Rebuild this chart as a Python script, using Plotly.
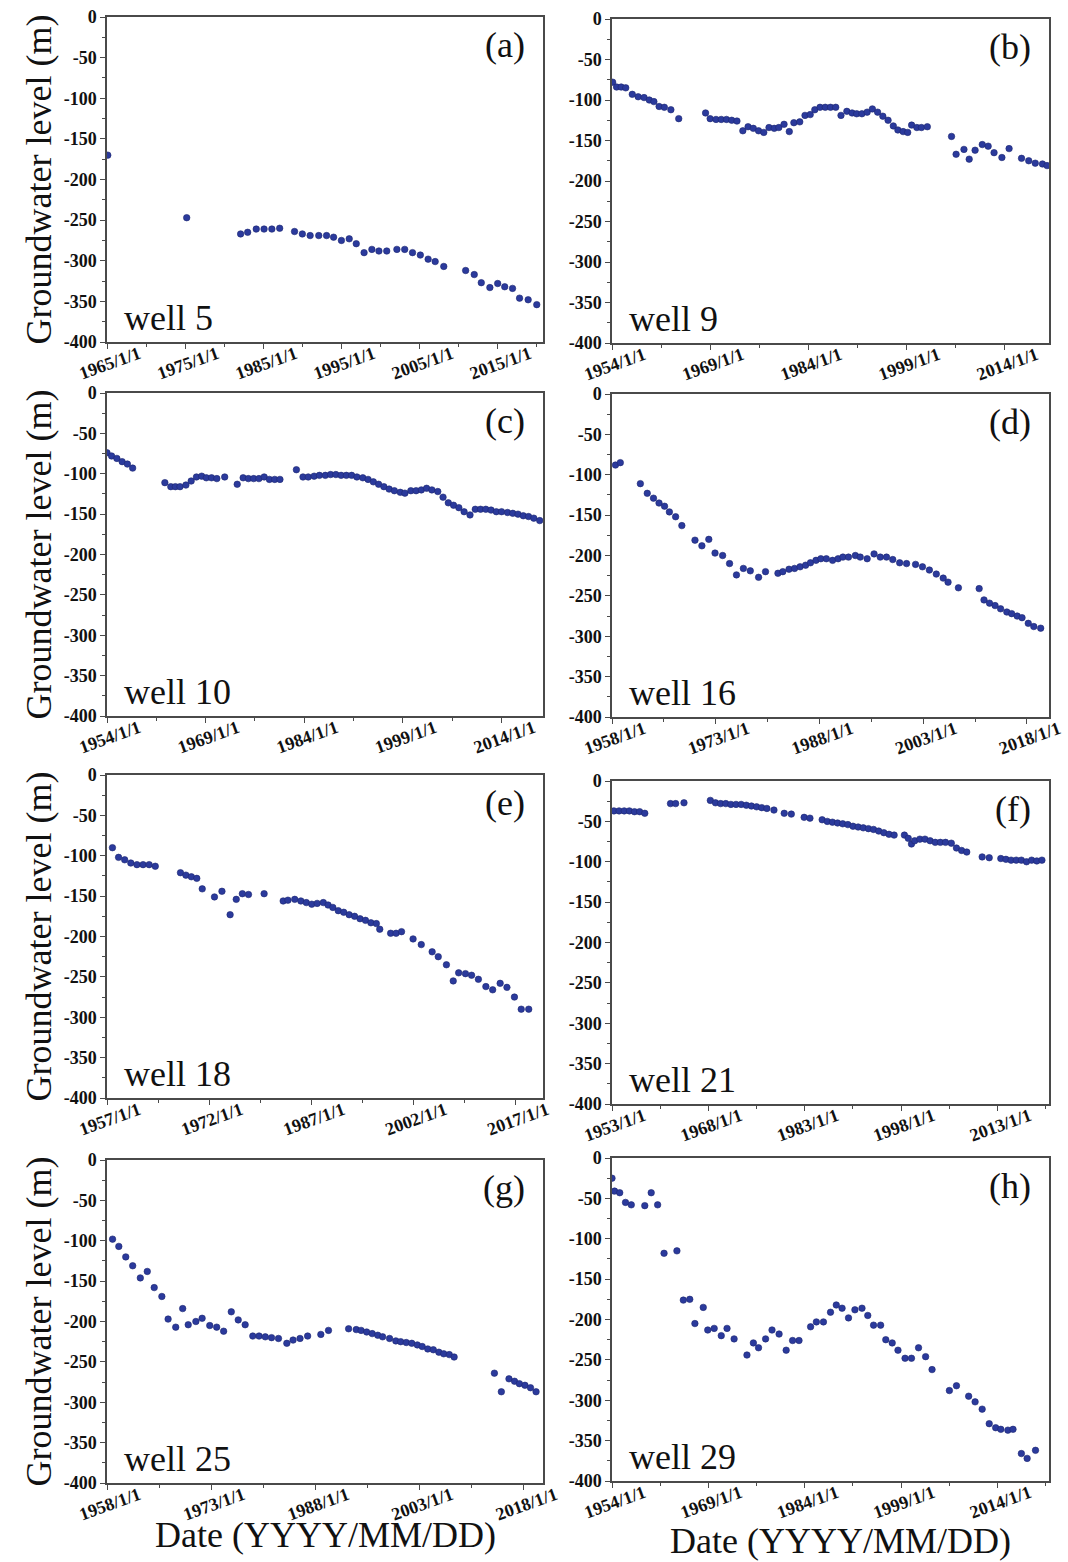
import plotly.graph_objects as go

# ---------------- data (decimal year, groundwater level in m) ----------------
well5_year = [1965.1, 1975.2, 1982.1, 1983.0, 1984.1, 1985.1, 1986.1, 1987.1, 1989.0, 1990.0,
              1991.0, 1992.1, 1993.1, 1994.0, 1995.0, 1996.0, 1996.9, 1997.9, 1998.9, 1999.8,
              2000.8, 2002.1, 2003.1, 2004.1, 2005.1, 2006.1, 2007.0, 2008.1, 2010.9, 2012.0,
              2012.9, 2014.0, 2015.0, 2015.9, 2016.9, 2017.8, 2018.9, 2020.0]
well5_level = [-170, -247, -267, -265, -261, -261, -261, -260, -264, -267,
               -269, -269, -269, -271, -275, -273, -279, -290, -286, -288,
               -288, -286, -286, -290, -293, -298, -301, -307, -312, -317,
               -327, -333, -328, -332, -334, -346, -348, -354]

well9_year = [1954.1, 1954.7, 1955.4, 1956.1, 1957.1, 1958.0, 1958.9, 1959.7, 1960.4, 1961.2,
              1962.0, 1963.0, 1964.2, 1968.3, 1969.0, 1969.9, 1970.7, 1971.5, 1972.3, 1973.1,
              1974.0, 1974.8, 1975.6, 1976.4, 1977.2, 1978.0, 1978.8, 1979.5, 1980.3, 1981.1,
              1981.8, 1982.7, 1983.5, 1984.3, 1985.0, 1985.8, 1986.6, 1987.4, 1988.2, 1989.0,
              1989.9, 1990.7, 1991.4, 1992.2, 1993.0, 1993.8, 1994.6, 1995.4, 1996.2, 1997.0,
              1997.7, 1998.5, 1999.2, 1999.8, 2000.6, 2001.3, 2002.2, 2005.9, 2006.6, 2007.8,
              2008.6, 2009.5, 2010.6, 2011.5, 2012.4, 2013.6, 2014.7, 2016.6, 2017.7, 2018.7,
              2019.8, 2020.5]
well9_level = [-78, -84, -84, -85, -93, -96, -97, -100, -102, -108,
               -109, -112, -123, -116, -123, -124, -124, -124, -125, -126,
               -138, -133, -135, -138, -140, -134, -135, -134, -130, -139,
               -128, -127, -119, -118, -112, -109, -109, -109, -109, -119,
               -114, -116, -117, -117, -115, -111, -115, -120, -125, -132,
               -137, -139, -140, -131, -134, -134, -133, -145, -167, -161,
               -173, -162, -155, -157, -165, -171, -160, -172, -175, -178,
               -179, -181]

well10_year = [1954.0, 1954.7, 1955.5, 1956.3, 1957.1, 1957.9, 1962.8, 1963.7, 1964.4, 1965.1,
               1966.0, 1966.8, 1967.6, 1968.4, 1969.1, 1969.9, 1970.7, 1971.9, 1973.8, 1974.7,
               1975.5, 1976.3, 1977.1, 1977.9, 1978.7, 1979.5, 1980.3, 1982.8, 1983.8, 1984.6,
               1985.5, 1986.3, 1987.2, 1988.0, 1988.8, 1989.6, 1990.4, 1991.2, 1992.0, 1992.9,
               1993.7, 1994.5, 1995.3, 1996.1, 1996.9, 1997.7, 1998.6, 1999.3, 2000.2, 2001.0,
               2001.8, 2002.6, 2003.4, 2004.3, 2005.1, 2005.9, 2006.7, 2007.5, 2008.3, 2009.2,
               2010.0, 2010.8, 2011.6, 2012.4, 2013.2, 2014.0, 2014.9, 2015.7, 2016.5, 2017.3,
               2018.1, 2018.9, 2019.8]
well10_level = [-74, -78, -81, -85, -88, -93, -111, -116, -116, -116,
                -114, -109, -104, -103, -105, -105, -106, -104, -113, -105,
                -106, -106, -106, -104, -107, -107, -107, -95, -104, -104,
                -103, -102, -102, -101, -101, -102, -102, -102, -104, -105,
                -107, -110, -113, -116, -119, -121, -123, -124, -121, -121,
                -120, -118, -120, -122, -129, -136, -139, -142, -147, -151,
                -144, -144, -144, -145, -147, -147, -148, -149, -150, -152,
                -153, -155, -158]

well16_year = [1958.5, 1959.2, 1962.1, 1963.1, 1964.0, 1964.8, 1965.6, 1966.3, 1967.2, 1968.1,
               1970.0, 1971.0, 1972.0, 1972.9, 1974.0, 1975.0, 1976.0, 1977.0, 1978.0, 1979.2,
               1980.2, 1982.0, 1982.7, 1983.6, 1984.4, 1985.2, 1986.0, 1986.7, 1987.5, 1988.2,
               1989.0, 1989.9, 1990.7, 1991.4, 1992.2, 1993.2, 1993.9, 1994.9, 1995.9, 1996.8,
               1997.7, 1998.6, 1999.6, 2000.6, 2001.9, 2002.9, 2003.9, 2004.9, 2005.9, 2006.6,
               2008.1, 2011.1, 2011.8, 2012.6, 2013.4, 2014.2, 2015.1, 2015.8, 2016.6, 2017.3,
               2018.2, 2019.0, 2020.0]
well16_level = [-88, -85, -111, -123, -129, -135, -139, -146, -152, -163,
                -181, -188, -180, -197, -200, -210, -224, -216, -219, -227,
                -220, -222, -220, -217, -216, -214, -212, -209, -206, -204,
                -204, -206, -204, -202, -202, -200, -202, -204, -198, -202,
                -202, -205, -209, -210, -211, -214, -218, -223, -228, -233,
                -240, -241, -255, -259, -262, -266, -270, -272, -275, -277,
                -284, -288, -290]

well18_year = [1957.8, 1958.7, 1959.6, 1960.5, 1961.4, 1962.3, 1963.2, 1964.1, 1967.8, 1968.6,
               1969.4, 1970.2, 1971.0, 1972.8, 1973.9, 1975.1, 1976.0, 1976.9, 1977.8, 1980.1,
               1982.9, 1983.6, 1984.6, 1985.5, 1986.3, 1987.1, 1987.9, 1988.8, 1989.5, 1990.2,
               1991.0, 1991.8, 1992.6, 1993.4, 1994.2, 1995.0, 1995.8, 1996.6, 1997.1, 1998.7,
               1999.5, 2000.3, 2002.0, 2003.2, 2004.8, 2005.7, 2006.9, 2007.9, 2008.7, 2009.7,
               2010.6, 2011.6, 2012.7, 2013.7, 2014.8, 2015.8, 2016.9, 2017.9, 2019.0]
well18_level = [-90, -102, -105, -109, -111, -111, -111, -113, -121, -124,
                -126, -128, -141, -151, -144, -173, -154, -147, -148, -147,
                -156, -155, -154, -156, -158, -160, -159, -158, -161, -164,
                -168, -170, -173, -175, -178, -180, -183, -184, -191, -196,
                -196, -194, -203, -210, -219, -225, -235, -255, -245, -246,
                -248, -253, -262, -266, -258, -263, -275, -290, -290]

well21_year = [1953.3, 1954.1, 1954.9, 1955.7, 1956.5, 1957.3, 1958.1, 1962.1, 1962.9, 1964.2,
               1968.3, 1969.1, 1969.9, 1970.7, 1971.5, 1972.3, 1973.1, 1973.9, 1974.7, 1975.5,
               1976.3, 1977.1, 1978.2, 1979.8, 1980.9, 1982.9, 1983.8, 1985.7, 1986.5, 1987.3,
               1988.1, 1988.9, 1989.7, 1990.5, 1991.3, 1992.1, 1992.9, 1993.7, 1994.5, 1995.3,
               1996.1, 1996.9, 1998.5, 1999.1, 1999.6, 2000.1, 2000.9, 2001.7, 2002.5, 2003.3,
               2004.1, 2004.9, 2005.8, 2006.6, 2007.4, 2008.2, 2010.6, 2011.7, 2013.5, 2014.3,
               2015.1, 2015.9, 2016.7, 2017.5, 2018.3, 2019.1, 2019.9]
well21_level = [-37, -37, -37, -37, -38, -38, -40, -28, -28, -27,
                -24, -27, -28, -28, -29, -29, -29, -30, -31, -32,
                -33, -34, -36, -40, -41, -45, -46, -48, -50, -51,
                -52, -53, -54, -56, -57, -58, -59, -60, -62, -64,
                -66, -67, -67, -71, -78, -74, -72, -72, -74, -76,
                -76, -76, -77, -83, -86, -88, -94, -95, -96, -97,
                -98, -98, -98, -100, -98, -99, -98]

well25_year = [1958.8, 1959.7, 1960.7, 1961.7, 1962.8, 1963.8, 1964.8, 1965.9, 1966.8, 1967.9,
               1968.9, 1969.7, 1970.8, 1971.7, 1972.8, 1973.8, 1974.8, 1975.9, 1976.9, 1977.9,
               1979.0, 1979.9, 1980.8, 1981.7, 1982.7, 1983.9, 1984.8, 1985.8, 1986.9, 1988.8,
               1989.9, 1992.8, 1993.9, 1994.6, 1995.4, 1996.2, 1997.0, 1997.7, 1998.7, 1999.6,
               2000.3, 2001.1, 2001.9, 2002.7, 2003.4, 2004.2, 2005.0, 2005.8, 2006.5, 2007.3,
               2008.0, 2013.8, 2014.8, 2015.9, 2016.7, 2017.4, 2018.2, 2019.0, 2019.8]
well25_level = [-98, -107, -120, -131, -146, -138, -158, -169, -197, -207,
                -184, -204, -200, -196, -205, -207, -212, -188, -198, -204,
                -218, -218, -219, -220, -221, -227, -223, -221, -218, -216,
                -211, -209, -210, -211, -213, -215, -217, -219, -221, -224,
                -225, -226, -227, -229, -231, -234, -235, -238, -240, -241,
                -244, -264, -287, -271, -274, -277, -279, -282, -287]

well29_year = [1954.0, 1954.4, 1955.2, 1956.1, 1957.0, 1959.1, 1960.1, 1961.1, 1962.1, 1964.1,
               1965.1, 1966.1, 1966.9, 1968.2, 1968.9, 1969.9, 1971.0, 1971.9, 1973.0, 1975.0,
               1976.0, 1976.8, 1977.9, 1978.9, 1980.0, 1981.1, 1982.1, 1983.1, 1984.9, 1985.8,
               1986.9, 1988.0, 1988.9, 1989.8, 1990.8, 1991.8, 1992.9, 1993.8, 1994.7, 1995.8,
               1996.6, 1997.6, 1998.5, 1999.6, 2000.6, 2001.7, 2002.8, 2003.8, 2006.5, 2007.6,
               2009.5, 2010.5, 2011.6, 2012.7, 2013.7, 2014.5, 2015.6, 2016.4, 2017.7, 2018.6,
               2019.9]
well29_level = [-25, -41, -43, -55, -58, -59, -43, -58, -118, -115,
                -176, -175, -205, -185, -213, -211, -220, -211, -224, -244,
                -229, -235, -224, -213, -218, -238, -226, -226, -209, -203,
                -203, -191, -182, -186, -198, -188, -186, -195, -207, -207,
                -225, -229, -238, -248, -248, -235, -246, -262, -288, -282,
                -295, -302, -311, -329, -334, -336, -337, -336, -366, -372,
                -362]

# tick labels
y_tickvals = [0, -50, -100, -150, -200, -250, -300, -350, -400]
y_ticktext = ["0", "-50", "-100", "-150", "-200", "-250", "-300", "-350", "-400"]
y_minor = [-25, -75, -125, -175, -225, -275, -325, -375]

x_major_a = [1965, 1975, 1985, 1995, 2005, 2015]
x_minor_a = [1970, 1980, 1990, 2000, 2010, 2020]
x_major_b = [1954, 1969, 1984, 1999, 2014]
x_major_c = [1954, 1969, 1984, 1999, 2014]
x_major_d = [1958, 1973, 1988, 2003, 2018]
x_major_e = [1957, 1972, 1987, 2002, 2017]
x_major_f = [1953, 1968, 1983, 1998, 2013]
x_major_g = [1958, 1973, 1988, 2003, 2018]
x_major_h = [1954, 1969, 1984, 1999, 2014]

x_ranges = {"a": [1965, 2020.8], "b": [1954, 2020.8], "c": [1954, 2020.3], "d": [1958, 2021.2],
            "e": [1957, 2021.1], "f": [1953, 2021.0], "g": [1958, 2020.8], "h": [1954, 2022.0]}

wells = [
    ("a", "well 5", well5_year, well5_level, x_major_a, x_minor_a),
    ("b", "well 9", well9_year, well9_level, x_major_b, None),
    ("c", "well 10", well10_year, well10_level, x_major_c, None),
    ("d", "well 16", well16_year, well16_level, x_major_d, None),
    ("e", "well 18", well18_year, well18_level, x_major_e, None),
    ("f", "well 21", well21_year, well21_level, x_major_f, None),
    ("g", "well 25", well25_year, well25_level, x_major_g, None),
    ("h", "well 29", well29_year, well29_level, x_major_h, None),
]

# ---------------- layout geometry (pixels) ----------------
W, H = 1068, 1562
col_x = [(107, 543), (612, 1049)]
row_y = {"a": (17, 342), "b": (19, 343), "c": (393, 716), "d": (394, 717),
         "e": (775, 1098), "f": (781, 1104), "g": (1160, 1483), "h": (1158, 1481)}

SERIF = "Liberation Serif"
DOT = "#2b3a9c"
LINE = "#4a4a4a"
TICKFONT = dict(family=SERIF, size=18, color="#111", weight="bold")

fig = go.Figure()
layout = dict(width=W, height=H, margin=dict(l=0, r=0, t=0, b=0, autoexpand=False),
              paper_bgcolor="white", plot_bgcolor="white", showlegend=False,
              annotations=[])

for i, (letter, name, xs, ys, major, minor) in enumerate(wells):
    n = i + 1
    col = i % 2
    x0, x1 = col_x[col]
    t, b = row_y[letter]
    xa = "xaxis" if n == 1 else f"xaxis{n}"
    ya = "yaxis" if n == 1 else f"yaxis{n}"
    xr = "x" if n == 1 else f"x{n}"
    yr = "y" if n == 1 else f"y{n}"

    fig.add_trace(go.Scatter(x=xs, y=ys, mode="markers", xaxis=xr, yaxis=yr,
                             marker=dict(size=6.5, color=DOT,
                                         line=dict(width=0.6, color="#1d2670")),
                             cliponaxis=True, name=name))

    if minor is None:
        minor = [v + 7.5 for v in major]
    layout[xa] = dict(
        domain=[x0 / W, x1 / W], anchor=yr, range=x_ranges[letter], automargin=False,
        tickmode="array", tickvals=major, ticktext=[f"{v}/1/1" for v in major],
        tickangle=-20, ticklabelshift=32, ticklabelstandoff=-12,
        ticks="outside", ticklen=5, tickwidth=1.2, tickcolor=LINE,
        tickfont=TICKFONT,
        minor=dict(tickmode="array", tickvals=minor, ticks="outside", ticklen=3,
                   tickwidth=1, tickcolor=LINE),
        showline=True, linecolor=LINE, linewidth=1.5, mirror=True,
        showgrid=False, zeroline=False,
    )
    layout[ya] = dict(
        domain=[1 - b / H, 1 - t / H], anchor=xr, range=[-400, 0], automargin=False,
        tickmode="array", tickvals=y_tickvals, ticktext=y_ticktext,
        ticks="outside", ticklen=5, tickwidth=1.2, tickcolor=LINE,
        tickfont=TICKFONT,
        minor=dict(tickmode="array", tickvals=y_minor, ticks="outside", ticklen=3,
                   tickwidth=1, tickcolor=LINE),
        showline=True, linecolor=LINE, linewidth=1.5, mirror=True,
        showgrid=False, zeroline=False,
    )

    ph = b - t
    pw = x1 - x0
    # panel letter
    layout["annotations"].append(dict(
        text=f"({letter})", xref=f"{xr} domain", yref=f"{yr} domain",
        x=1 - 16 / pw, y=1 - 28 / ph, xanchor="right", yanchor="middle",
        showarrow=False, font=dict(family=SERIF, size=36, color="#111")))
    # well label
    layout["annotations"].append(dict(
        text=name, xref=f"{xr} domain", yref=f"{yr} domain",
        x=15 / pw, y=24 / ph, xanchor="left", yanchor="middle",
        showarrow=False, font=dict(family=SERIF, size=36, color="#111")))
    # y title for left column
    if col == 0:
        layout["annotations"].append(dict(
            text="Groundwater level (m)", xref="paper", yref="paper",
            x=38 / W, y=1 - (t + b) / 2 / H, xanchor="center", yanchor="middle",
            textangle=-90, showarrow=False,
            font=dict(family=SERIF, size=36, color="#111")))

# x titles under the bottom row
layout["annotations"].append(dict(
    text="Date (YYYY/MM/DD)", xref="paper", yref="paper", x=325 / W, y=1 - 1535 / H,
    xanchor="center", yanchor="middle", showarrow=False,
    font=dict(family=SERIF, size=36, color="#111")))
layout["annotations"].append(dict(
    text="Date (YYYY/MM/DD)", xref="paper", yref="paper", x=840 / W, y=1 - 1541 / H,
    xanchor="center", yanchor="middle", showarrow=False,
    font=dict(family=SERIF, size=36, color="#111")))

fig.update_layout(**layout)
fig.write_html("out.html")
